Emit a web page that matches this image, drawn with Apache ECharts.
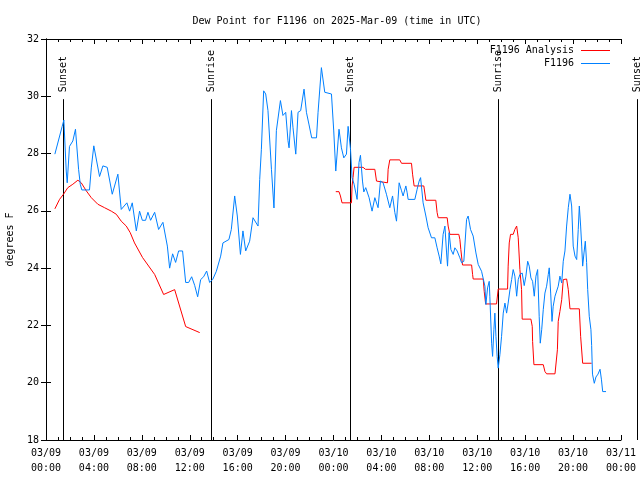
<!DOCTYPE html>
<html><head><meta charset="utf-8">
<script src="https://cdn.jsdelivr.net/npm/echarts@6/dist/echarts.min.js"></script>
<style>html,body{margin:0;padding:0;background:#fff}#c{width:640px;height:480px}</style>
</head><body><div id="c"></div>
<script>
const FONT = 'DejaVu Sans Mono';
const titleText = 'Dew Point for F1196 on 2025-Mar-09 (time in UTC)';
const yAxisName = 'degrees F';
const seriesNames = ['F1196 Analysis', 'F1196'];
// hours since 2025-03-09 00:00 UTC
const xTickLabels = ['03/09\n00:00','03/09\n04:00','03/09\n08:00','03/09\n12:00','03/09\n16:00','03/09\n20:00',
  '03/10\n00:00','03/10\n04:00','03/10\n08:00','03/10\n12:00','03/10\n16:00','03/10\n20:00','03/11\n00:00'];
const sunEvents = [['Sunset',1.40],['Sunrise',13.74],['Sunset',25.36],['Sunrise',37.72],['Sunset',49.34]];
const sunLineTop = 29.9;

const analysisPart1 = [[0.74,26.07],[1.13,26.4],[1.46,26.58],[1.82,26.81],[2.24,26.93],[2.66,27.07],[2.94,26.98],
  [3.36,26.7],[3.78,26.46],[4.33,26.23],[4.89,26.11],[5.45,25.99],[5.87,25.88],[6.28,25.64],[6.70,25.47],[7.03,25.24],
  [7.39,24.88],[8.06,24.37],[9.07,23.78],[9.82,23.08],[10.74,23.25],[11.66,21.96],[12.83,21.75]];
const analysisPart2 = [[24.19,26.67],[24.46,26.67],[24.58,26.52],[24.71,26.28],[25.50,26.28],[25.55,26.87],[25.63,27.16],
  [25.72,27.52],[26.47,27.52],[26.67,27.45],[27.45,27.45],[27.59,27.04],[27.72,26.98],[28.51,26.98],[28.56,27.45],
  [28.70,27.78],[29.53,27.78],[29.68,27.66],[30.51,27.66],[30.60,27.28],[30.73,26.87],[31.54,26.87],[31.62,26.81],
  [31.71,26.37],[32.54,26.37],[32.65,25.94],[32.74,25.76],[33.49,25.76],[33.57,25.47],[33.71,25.18],[34.46,25.18],
  [34.55,25.0],[34.63,24.65],[34.77,24.11],[35.53,24.11],[35.61,23.78],[35.66,23.62],[36.50,23.62],[36.58,23.19],
  [36.70,22.75],[37.61,22.75],[37.75,23.27],[38.53,23.27],[38.58,24.07],[38.67,24.88],[38.78,25.18],[39.00,25.18],
  [39.14,25.35],[39.29,25.47],[39.42,25.06],[39.56,23.95],[39.70,23.25],[39.75,22.22],[40.48,22.22],[40.59,21.97],
  [40.62,21.44],[40.73,20.63],[41.51,20.63],[41.65,20.39],[41.79,20.31],[42.49,20.31],[42.61,20.25],[42.69,21.15],
  [42.76,22.14],[42.90,22.49],[43.05,22.9],[43.18,23.6],[43.46,23.62],[43.60,23.25],[43.74,22.58],[44.52,22.58],
  [44.63,21.62],[44.80,20.68],[45.55,20.68]];
const observed = [[0.74,27.98],[1.35,28.95],[1.49,29.17],[1.69,27.39],[1.77,26.98],[1.96,28.25],[2.24,28.44],[2.46,28.85],
  [2.72,27.45],[2.86,26.93],[2.99,26.73],[3.63,26.73],[3.78,27.5],[3.99,28.27],[4.47,27.2],[4.75,27.57],[5.11,27.52],
  [5.53,26.58],[6.00,27.28],[6.28,26.05],[6.75,26.28],[6.98,25.99],[7.20,26.28],[7.54,25.3],[7.81,25.99],[8.04,25.67],
  [8.31,25.67],[8.51,25.95],[8.73,25.67],[9.07,25.95],[9.40,25.35],[9.76,25.6],[10.13,24.77],[10.32,24.0],[10.57,24.5],
  [10.82,24.2],[11.07,24.6],[11.40,24.6],[11.66,23.5],[11.91,23.5],[12.16,23.7],[12.41,23.4],[12.66,23.0],[12.91,23.6],
  [13.16,23.7],[13.41,23.9],[13.66,23.5],[13.91,23.6],[14.22,23.89],[14.58,24.42],[14.77,24.88],[15.27,25.0],[15.47,25.35],
  [15.75,26.52],[15.97,25.82],[16.23,24.48],[16.44,25.3],[16.67,24.6],[17.00,24.94],[17.28,25.76],[17.70,25.47],
  [17.84,27.1],[17.98,28.15],[18.17,30.19],[18.34,30.08],[18.53,29.5],[18.82,27.45],[19.03,26.1],[19.23,28.8],
  [19.57,29.85],[19.78,29.33],[20.01,29.44],[20.20,28.45],[20.29,28.2],[20.49,29.5],[20.62,28.9],[20.85,27.98],
  [21.04,29.44],[21.26,29.5],[21.54,30.25],[21.74,29.44],[21.96,29.0],[22.18,28.55],[22.58,28.55],[22.71,29.44],
  [22.99,31.0],[23.27,30.14],[23.83,30.08],[24.02,28.79],[24.19,27.39],[24.46,28.85],[24.66,28.2],[24.86,27.85],
  [25.08,27.98],[25.22,28.95],[25.42,28.15],[25.55,27.16],[25.72,26.93],[25.97,26.4],[26.13,27.69],[26.25,27.94],
  [26.42,27.04],[26.53,26.66],[26.69,26.81],[26.97,26.46],[27.22,25.99],[27.45,26.46],[27.72,26.11],[27.92,27.04],
  [28.14,26.98],[28.42,26.58],[28.70,26.11],[28.93,26.52],[29.12,25.94],[29.26,25.64],[29.48,26.98],[29.68,26.7],
  [29.81,26.52],[30.04,26.87],[30.15,26.63],[30.23,26.4],[30.79,26.4],[30.98,26.75],[31.15,27.04],[31.27,27.16],
  [31.48,26.28],[31.71,25.82],[31.90,25.41],[32.18,25.06],[32.46,25.06],[32.65,24.71],[32.82,24.42],[32.96,24.15],
  [33.15,25.18],[33.30,25.47],[33.44,24.53],[33.52,24.07],[33.65,25.24],[33.80,24.65],[33.99,24.48],[34.13,24.71],
  [34.32,24.6],[34.55,24.36],[34.69,24.19],[34.88,24.24],[35.11,25.7],[35.24,25.82],[35.44,25.35],[35.66,25.12],
  [35.89,24.53],[36.08,24.13],[36.36,23.89],[36.50,23.89],[36.64,23.37],[36.72,22.73],[36.86,23.31],[37.00,23.54],
  [37.05,23.02],[37.20,21.38],[37.28,20.92],[37.39,21.85],[37.47,22.43],[37.56,21.62],[37.66,20.92],[37.75,20.51],
  [37.89,20.98],[38.03,21.62],[38.17,22.43],[38.31,22.78],[38.45,22.43],[38.58,22.78],[38.73,23.25],[38.87,23.6],
  [39.00,23.95],[39.14,23.72],[39.29,23.02],[39.42,23.6],[39.56,23.78],[39.75,23.83],[39.92,23.39],[40.06,23.72],
  [40.21,24.24],[40.34,24.07],[40.48,23.66],[40.62,23.54],[40.76,23.02],[40.90,23.72],[41.04,23.95],[41.17,22.32],
  [41.26,21.38],[41.38,21.85],[41.51,22.55],[41.65,23.13],[41.79,23.37],[41.93,23.78],[42.01,24.01],[42.13,23.13],
  [42.24,22.14],[42.34,22.67],[42.49,23.02],[42.63,23.07],[42.76,23.37],[42.90,23.72],[43.05,23.48],[43.18,24.24],
  [43.32,24.6],[43.46,25.47],[43.60,26.11],[43.74,26.58],[43.88,26.17],[44.01,24.77],[44.16,24.42],[44.30,24.3],
  [44.43,25.35],[44.52,26.17],[44.63,25.47],[44.72,24.77],[44.80,24.07],[44.91,24.53],[45.02,24.94],[45.13,24.19],
  [45.22,23.25],[45.35,22.32],[45.49,21.85],[45.55,21.3],[45.62,20.3],[45.77,19.98],[45.91,20.2],[46.08,20.3],
  [46.25,20.47],[46.37,20.1],[46.47,19.69],[46.75,19.69]];

const analysisData = analysisPart1.concat([[18, '-']], analysisPart2);

const chart = echarts.init(document.getElementById('c'), null, {renderer: 'canvas'});
const txt = {fontFamily: FONT, fontSize: 10, color: '#000'};
const axLine = {show: true, lineStyle: {color: '#000', width: 1}};
function xAx(pos, labels) {
  return {
    type: 'value', position: pos, min: 0, max: 48, interval: 4,
    axisLine: axLine,
    axisTick: {show: true, inside: true, length: 5, lineStyle: {color: '#000'}},
    minorTick: {show: true, splitNumber: 4, length: 3, lineStyle: {color: '#000'}},
    splitLine: {show: false}, minorSplitLine: {show: false},
    axisLabel: labels ? Object.assign({show: true, margin: 6, lineHeight: 15,
      formatter: v => xTickLabels[Math.round(v / 4)]}, txt) : {show: false}
  };
}
function yAx(pos, labels) {
  return {
    type: 'value', position: pos, min: 18, max: 32, interval: 2,
    axisLine: axLine,
    axisTick: {show: true, inside: true, length: 5, lineStyle: {color: '#000'}},
    splitLine: {show: false},
    name: labels ? yAxisName : '', nameLocation: 'middle', nameRotate: 90, nameGap: 31,
    nameTextStyle: txt,
    axisLabel: labels ? Object.assign({show: true, margin: 7}, txt) : {show: false}
  };
}
function leg(name, color, top) {
  return {
    data: [{name: name, icon: 'rect', itemStyle: {color: color, borderWidth: 0}}],
    right: 30, top: top, orient: 'vertical', align: 'right',
    itemWidth: 29, itemHeight: 1, itemGap: 0, padding: 0, selectedMode: false,
    textStyle: {fontFamily: FONT, fontSize: 10, color: '#000', padding: [0, 2, 0, 0]}
  };
}
chart.setOption({
  animation: false,
  backgroundColor: '#fff',
  title: {text: titleText, left: 332, top: 11, textAlign: 'center',
    textStyle: {fontFamily: FONT, fontSize: 10, fontWeight: 'normal', color: '#000'}},
  grid: {left: 46, right: 19, top: 39, bottom: 40, outerBoundsMode: 'none', containLabel: false},
  legend: [leg(seriesNames[0], '#ff0000', 45.5), leg(seriesNames[1], '#0080ff', 58.5)],
  xAxis: [xAx('bottom', true), xAx('top', false)],
  yAxis: [yAx('left', true), yAx('right', false)],
  series: [
    {name: seriesNames[0], type: 'line', data: analysisData, symbol: 'none', showSymbol: false, connectNulls: false,
      lineStyle: {color: '#ff0000', width: 1}, itemStyle: {color: '#ff0000'}, z: 3},
    {name: seriesNames[1], type: 'line', data: observed, symbol: 'none', showSymbol: false,
      lineStyle: {color: '#0080ff', width: 1}, itemStyle: {color: '#0080ff'}, z: 4}
  ]
});
const gfx = [];
sunEvents.forEach(([name, h]) => {
  const top = chart.convertToPixel({gridIndex: 0}, [h, sunLineTop]);
  const bot = chart.convertToPixel({gridIndex: 0}, [h, 18]);
  const x = Math.round(top[0]) + 0.5;
  gfx.push({type: 'line', z: 1, shape: {x1: x, y1: top[1], x2: x, y2: bot[1]},
    style: {stroke: '#000', lineWidth: 1}});
  gfx.push({type: 'text', z: 1, x: x, y: top[1] - 7, rotation: Math.PI / 2,
    style: {text: name, fill: '#000', fontFamily: FONT, fontSize: 10, align: 'left', verticalAlign: 'middle'}});
});
chart.setOption({graphic: gfx});
</script>
</body></html>
